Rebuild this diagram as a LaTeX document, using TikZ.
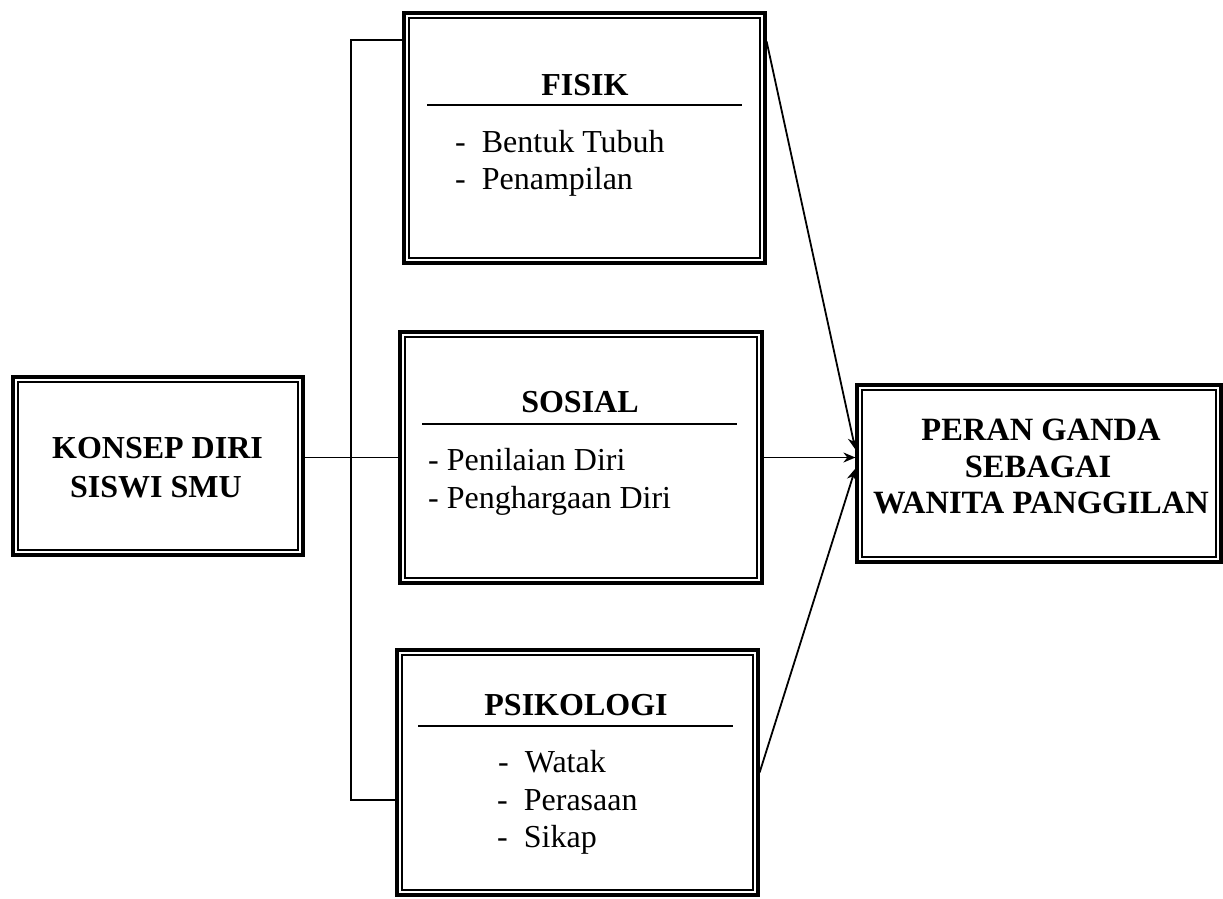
\documentclass[tikz,border=0pt]{standalone}
\usepackage{fontspec}
\setmainfont{Liberation Serif}
\usetikzlibrary{arrows.meta}
\tikzset{
  outerbox/.style={draw, line width=3.2pt, inner sep=0pt, fill=none},
  innerbox/.style={draw, line width=1.8pt},
  headtxt/.style={font=\fontsize{32}{38}\selectfont\bfseries, anchor=base, inner sep=0pt},
  bigtxt/.style={font=\fontsize{32.5}{38}\selectfont\bfseries, anchor=base, inner sep=0pt},
  itemtxt/.style={font=\fontsize{32}{38}\selectfont, anchor=base west, inner sep=0pt},
  rulestyle/.style={line width=2pt},
  conn/.style={line width=1.8pt},
  arr/.style={line width=1.8pt, -{Stealth[length=12pt,width=10pt]}}
}
\begin{document}
\begin{tikzpicture}[x=1pt,y=-1pt]
\useasboundingbox (0,0) rectangle (1223,898);

% boxes
\node[outerbox, minimum width=290pt, minimum height=178pt] (konsep) at (158,466) {};
\node[outerbox, minimum width=361pt, minimum height=250pt] (fisik) at (584.5,138) {};
\node[outerbox, minimum width=362pt, minimum height=251pt] (sosial) at (581,457.5) {};
\node[outerbox, minimum width=361pt, minimum height=245pt] (psiko) at (577.5,772.5) {};
\node[outerbox, minimum width=364pt, minimum height=177pt] (peran) at (1039,473.5) {};
\foreach \n in {konsep,fisik,sosial,psiko,peran}
  \draw[innerbox] ([shift={(6.5pt,-6.5pt)}]\n.north west) rectangle ([shift={(-6.5pt,6.5pt)}]\n.south east);

% texts
\node[headtxt] (k1) at (157.5,458) {KONSEP DIRI};
\node[headtxt] (k2) at (156,497) {SISWI SMU};

\node[headtxt] (fh) at (585,95) {FISIK};
\draw[rulestyle] (427,105) -- (742,105);
\node[itemtxt] (f1) at (455,152) {-\ \ Bentuk Tubuh};
\node[itemtxt] (f2) at (455,189) {-\ \ Penampilan};

\node[headtxt] (sh) at (580,412) {SOSIAL};
\draw[rulestyle] (422,424) -- (737,424);
\node[itemtxt] (s1) at (428,470) {- Penilaian Diri};
\node[itemtxt] (s2) at (428,508) {- Penghargaan Diri};

\node[headtxt] (ph) at (576,715) {PSIKOLOGI};
\draw[rulestyle] (418,726) -- (733,726);
\node[itemtxt] (p1) at (498,772) {-\ \ Watak};
\node[itemtxt] (p2) at (497,810) {-\ \ Perasaan};
\node[itemtxt] (p3) at (497,847) {-\ \ Sikap};

\node[bigtxt] (r1) at (1041,440) {PERAN GANDA};
\node[bigtxt] (r2) at (1038,477) {SEBAGAI};
\node[bigtxt] (r3) at (1041,513) {WANITA PANGGILAN};

% connectors
\coordinate (bt) at (351,40);
\coordinate (bb) at (351,800);
\draw[conn] (konsep.east |- sosial.west) -- (sosial.west);
\draw[conn] (fisik.west |- bt) -- (bt) -- (bb) -- (psiko.west |- bb);

\draw[arr] ([yshift=-30pt]fisik.north east) -- ([yshift=24pt]peran.west);
\draw[arr] (sosial.east) -- (sosial.east -| peran.west);
\draw[arr] (psiko.east) -- ([yshift=5pt]peran.west);
\end{tikzpicture}
\end{document}
